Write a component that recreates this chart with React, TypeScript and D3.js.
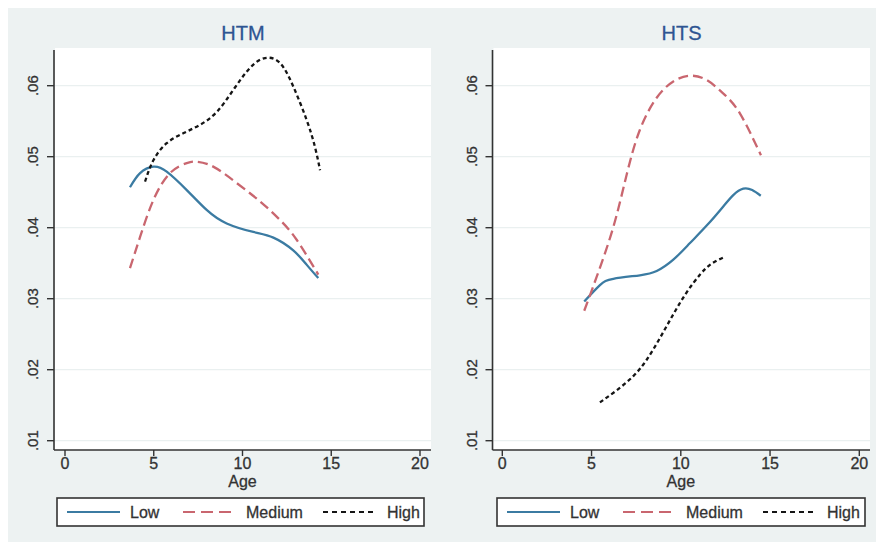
import React from "react";
import * as d3 from "d3";

const panelTitles = ["HTM", "HTS"];
const seriesNames = ["Low", "Medium", "High"];
const xTicks = [0, 5, 10, 15, 20];
const yTicks = [0.01, 0.02, 0.03, 0.04, 0.05, 0.06];
const yTickLabels = [".01", ".02", ".03", ".04", ".05", ".06"];

const htmLowAge = [3.66, 4.23, 4.98, 5.73, 6.86, 7.98, 9.11, 10.61, 11.74, 12.86, 13.61, 14.27];
const htmLowVal = [0.0457, 0.0477, 0.0486, 0.0479, 0.0453, 0.0425, 0.0406, 0.0394, 0.0386, 0.0368, 0.0348, 0.0329];
const htmMedAge = [3.66, 4.23, 4.98, 5.92, 6.86, 7.42, 8.35, 9.67, 10.99, 12.11, 13.05, 14.27];
const htmMedVal = [0.0343, 0.0387, 0.0439, 0.0477, 0.0491, 0.0493, 0.0486, 0.0463, 0.0437, 0.0411, 0.0383, 0.0334];
const htmHighAge = [4.51, 4.98, 5.73, 6.66, 7.61, 8.55, 9.48, 10.42, 11.27, 12.11, 12.86, 13.61, 14.08, 14.37];
const htmHighVal = [0.0465, 0.0495, 0.0519, 0.0533, 0.0545, 0.0563, 0.0594, 0.0625, 0.0639, 0.0632, 0.0599, 0.0552, 0.0514, 0.0481];

const htsLowAge = [4.59, 5.47, 6.22, 7.71, 8.65, 9.58, 10.5, 11.45, 12.38, 12.94, 13.5, 14.0, 14.48];
const htsLowVal = [0.0296, 0.0319, 0.0328, 0.0333, 0.0339, 0.0355, 0.0378, 0.0403, 0.043, 0.0446, 0.0455, 0.0453, 0.0445];
const htsMedAge = [4.59, 5.29, 6.22, 6.97, 7.71, 8.65, 9.58, 10.5, 11.45, 12.38, 13.31, 14.49];
const htsMedVal = [0.0283, 0.0331, 0.0401, 0.0475, 0.0538, 0.0583, 0.0606, 0.0614, 0.0608, 0.0589, 0.0561, 0.0502];
const htsHighAge = [5.47, 6.41, 7.34, 8.09, 8.84, 9.58, 10.33, 11.08, 11.7, 12.38];
const htsHighVal = [0.0154, 0.0171, 0.0191, 0.0214, 0.0245, 0.0278, 0.0309, 0.0334, 0.0349, 0.0358];

const seriesColors = ["#3b7ba2", "#c9666f", "#151515"];
const seriesDash = [null, "10,5", "4,3"];
const legendDash = [null, "12,6", "5,4"];

const FONT = "'Liberation Sans', Arial, Helvetica, sans-serif";

const zip = (a: number[], b: number[]) => a.map((x, i) => [x, b[i]] as [number, number]);

const panelData = [
  [zip(htmLowAge, htmLowVal), zip(htmMedAge, htmMedVal), zip(htmHighAge, htmHighVal)],
  [zip(htsLowAge, htsLowVal), zip(htsMedAge, htsMedVal), zip(htsHighAge, htsHighVal)],
];

// layout (page coordinates; svg placed at the body's 8px margin)
const panels = [
  { axisX: 54, plotRight: 431, x0: 65, x20: 420, legendLeft: 57, legendRight: 424, titleX: 243 },
  { axisX: 492.5, plotRight: 870, x0: 502.3, x20: 859.3, legendLeft: 497, legendRight: 865, titleX: 681.5 },
];
const legendLineOffsets = [10, 126, 266];
const legendTextOffsets = [73, 189, 330];
const plotTop = 48;
const plotBottom = 450;

export default function App() {
  const y = d3.scaleLinear().domain([0.01, 0.06]).range([440.7, 85.7]);

  return (
    <svg width={876} height={534} style={{ display: "block" }} fontFamily={FONT}>
      <g transform="translate(-8,-8)">
        <rect x={8} y={7} width={876} height={535} fill="#edf2f2" />
        {panels.map((p, pi) => {
          const x = d3.scaleLinear().domain([0, 20]).range([p.x0, p.x20]);
          const line = d3
            .line<[number, number]>()
            .x((d) => x(d[0]))
            .y((d) => y(d[1]))
            .curve(d3.curveNatural);
          const midX = (p.x0 + p.x20) / 2;
          return (
            <g key={pi}>
              <rect x={p.axisX + 1} y={plotTop} width={p.plotRight - p.axisX - 1} height={plotBottom - plotTop} fill="#ffffff" />
              {yTicks.map((t, i) => (
                <line key={"g" + i} x1={p.axisX + 1} x2={p.plotRight} y1={y(t)} y2={y(t)} stroke="#eaf0f0" strokeWidth={1.2} />
              ))}
              <text x={p.titleX} y={40} textAnchor="middle" fontSize={20} fill="#2e5592" stroke="#2e5592" strokeWidth={0.3}>
                {panelTitles[pi]}
              </text>
              {panelData[pi].map((s, si) => (
                <path
                  key={"s" + si}
                  d={line(s) || ""}
                  fill="none"
                  stroke={seriesColors[si]}
                  strokeWidth={2.3}
                  strokeDasharray={seriesDash[si] || undefined}
                />
              ))}
              {/* y axis */}
              <line x1={p.axisX} x2={p.axisX} y1={plotTop + 2} y2={plotBottom} stroke="#333" strokeWidth={1.6} />
              {yTicks.map((t, i) => (
                <g key={"yt" + i}>
                  <line x1={p.axisX - 7} x2={p.axisX} y1={y(t)} y2={y(t)} stroke="#333" strokeWidth={1.4} />
                  <text
                    transform={`translate(${p.axisX - 21},${y(t)}) rotate(-90)`}
                    textAnchor="middle"
                    dy="0.35em"
                    fontSize={15}
                    fill="#333"
                    stroke="#333"
                    strokeWidth={0.3}
                  >
                    {yTickLabels[i]}
                  </text>
                </g>
              ))}
              {/* x axis */}
              <line x1={p.axisX} x2={p.plotRight} y1={plotBottom} y2={plotBottom} stroke="#333" strokeWidth={1.6} />
              {xTicks.map((t, i) => (
                <g key={"xt" + i}>
                  <line x1={x(t)} x2={x(t)} y1={plotBottom} y2={plotBottom + 6} stroke="#333" strokeWidth={1.4} />
                  <text x={x(t)} y={469} textAnchor="middle" fontSize={16} fill="#333" stroke="#333" strokeWidth={0.3}>
                    {t}
                  </text>
                </g>
              ))}
              <text x={midX} y={487} textAnchor="middle" fontSize={16} fill="#333" stroke="#333" strokeWidth={0.3}>
                Age
              </text>
              {/* legend */}
              <rect
                x={p.legendLeft}
                y={498}
                width={p.legendRight - p.legendLeft}
                height={28}
                fill="#ffffff"
                stroke="#333"
                strokeWidth={1.6}
              />
              {seriesNames.map((n, si) => {
                const lineStart = p.legendLeft + legendLineOffsets[si];
                const textX = p.legendLeft + legendTextOffsets[si];
                return (
                  <g key={"l" + si}>
                    <line
                      x1={lineStart}
                      x2={lineStart + 53}
                      y1={512}
                      y2={512}
                      stroke={seriesColors[si]}
                      strokeWidth={2}
                      strokeDasharray={legendDash[si] || undefined}
                    />
                    <text x={textX} y={517.5} fontSize={16} fill="#333" stroke="#333" strokeWidth={0.3}>
                      {n}
                    </text>
                  </g>
                );
              })}
            </g>
          );
        })}
      </g>
    </svg>
  );
}
